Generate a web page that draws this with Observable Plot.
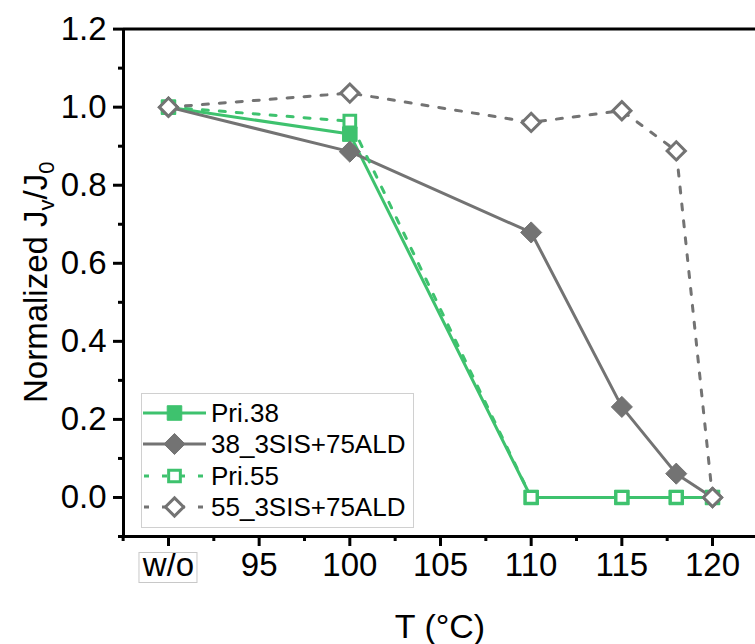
<!DOCTYPE html>
<html>
<head>
<meta charset="utf-8">
<script src="https://cdn.jsdelivr.net/npm/d3@7"></script>
<script src="https://cdn.jsdelivr.net/npm/@observablehq/plot@0.6"></script>
<style>
  html, body { margin: 0; padding: 0; background: #fff; }
  #chart { position: relative; width: 755px; height: 644px; overflow: hidden; }
  svg { font-family: "Liberation Sans", Arial, sans-serif; }
</style>
</head>
<body>
<div id="chart"></div>
<script>
// ---------- data ----------
const temps = [90, 100, 110, 115, 118, 120];          // 90 = "w/o" position
const pri38 = [1.0, 0.931, 0, 0, 0, 0];
const sis38 = [1.0, 0.886, 0.679, 0.232, 0.061, 0];
const pri55 = [1.0, 0.964, 0, 0, 0, 0];
const sis55 = [1.0, 1.036, 0.961, 0.991, 0.888, 0];
const seriesNames = ["Pri.38", "38_3SIS+75ALD", "Pri.55", "55_3SIS+75ALD"];

const xTicks = [90, 95, 100, 105, 110, 115, 120];
const xTickLabels = ["w/o", "95", "100", "105", "110", "115", "120"];
const xMinor = [87.5, 92.5, 97.5, 102.5, 107.5, 112.5, 117.5];
const yTicks = [0, 0.2, 0.4, 0.6, 0.8, 1.0, 1.2];
const yMinor = [-0.1, 0.1, 0.3, 0.5, 0.7, 0.9, 1.1];

const xDomain = [87.52, 122.37];
const yDomain = [-0.1, 1.2];

// ---------- styles ----------
const GREEN = "#3ec26e";
const GRAY = "#737373";
const styles = [
  {color: GREEN, dash: null, symbol: "square", filled: true, r: 8.2},
  {color: GRAY, dash: null, symbol: "diamond2", filled: true, r: 9.5},
  {color: GREEN, dash: "6 11", symbol: "square", filled: false, r: 6.6},
  {color: GRAY, dash: "6 11", symbol: "diamond2", filled: false, r: 8.2}
];
const allValues = [pri38, sis38, pri55, sis55];

const series = seriesNames.map((name, i) => ({
  name,
  ...styles[i],
  rows: temps.map((t, j) => ({t, v: allValues[i][j]}))
}));

const marks = [];
series.forEach(s => {
  marks.push(Plot.line(s.rows, {
    x: "t", y: "v", stroke: s.color, strokeWidth: 3,
    strokeDasharray: s.dash || undefined,
    strokeLinecap: s.dash ? "round" : "butt",
    strokeLinejoin: "round"
  }));
  marks.push(Plot.dot(s.rows, {
    x: "t", y: "v", symbol: () => s.symbol, r: s.r,
    fill: s.filled ? s.color : "white",
    stroke: s.color, strokeWidth: s.filled ? 1 : 3
  }));
});

const tickLabel = d => xTickLabels[xTicks.indexOf(d)];

const plot = Plot.plot({
  width: 755,
  height: 644,
  marginLeft: 123,
  marginRight: 0,
  marginTop: 28.6,
  marginBottom: 108,
  style: {fontSize: "33px", fontFamily: "'Liberation Sans', Arial, sans-serif", color: "#000", background: "#fff"},
  x: {domain: xDomain, axis: null},
  y: {domain: yDomain, axis: null},
  marks: [
    Plot.axisX(xTicks, {tickSize: 10, tickPadding: 6, strokeWidth: 3, tickFormat: tickLabel, label: null, fontSize: 33}),
    Plot.axisX(xMinor, {tickSize: 5, strokeWidth: 3, text: null, label: null}),
    Plot.axisY(yTicks, {tickSize: 10, tickPadding: 7, strokeWidth: 3, tickFormat: d3.format(".1f"), label: null, fontSize: 33}),
    Plot.axisY(yMinor, {tickSize: 5, strokeWidth: 3, text: null, label: null}),
    Plot.ruleY([yDomain[1]], {strokeWidth: 3}),
    Plot.ruleY([yDomain[0]], {strokeWidth: 3}),
    Plot.ruleX([xDomain[0]], {strokeWidth: 3}),
    ...marks
  ]
});

document.getElementById("chart").appendChild(plot);

const svg = d3.select(plot);
const sx = plot.scale("x");
const sy = plot.scale("y");

// box around "w/o"
const wx = sx.apply(xTicks[0]);
svg.append("rect")
  .attr("x", wx - 29).attr("y", 552.5).attr("width", 58).attr("height", 30)
  .attr("fill", "none").attr("stroke", "#c8c8c8").attr("stroke-width", 1);

// axis titles
svg.append("text")
  .attr("x", 440).attr("y", 638)
  .attr("text-anchor", "middle")
  .attr("font-size", 34)
  .attr("fill", "#000")
  .text("T (\u00B0C)");

const yMid = (sy.range[0] + sy.range[1]) / 2;
const yt = svg.append("text")
  .attr("transform", `translate(47,${yMid}) rotate(-90)`)
  .attr("text-anchor", "middle")
  .attr("font-size", 33)
  .attr("fill", "#000");
yt.append("tspan").text("Normalized J");
yt.append("tspan").attr("font-size", 22).attr("dy", 7).text("v");
yt.append("tspan").attr("dy", -7).text("/J");
yt.append("tspan").attr("font-size", 22).attr("dy", 7).text("0");

// legend
const lg = svg.append("g");
lg.append("rect")
  .attr("x", 141.5).attr("y", 393.5).attr("width", 272).attr("height", 134)
  .attr("fill", "white").attr("stroke", "#d0d0d0").attr("stroke-width", 1);
const rowY = [413, 444, 476, 507];
series.forEach((s, i) => {
  const y = rowY[i];
  lg.append("line")
    .attr("x1", 143).attr("x2", 206).attr("y1", y).attr("y2", y)
    .attr("stroke", s.color).attr("stroke-width", 3)
    .attr("stroke-dasharray", s.dash ? "5 13" : null)
    .attr("stroke-dashoffset", s.dash ? -1 : null)
    .attr("stroke-linecap", "butt");
  const sym = s.symbol === "square" ? d3.symbolSquare : d3.symbolDiamond2;
  lg.append("path")
    .attr("d", d3.symbol(sym, Math.PI * s.r * s.r)())
    .attr("transform", `translate(174.5,${y})`)
    .attr("fill", s.filled ? s.color : "white")
    .attr("stroke", s.color)
    .attr("stroke-width", s.filled ? 1 : 3);
  lg.append("text")
    .attr("x", 211).attr("y", y + 9)
    .attr("text-anchor", "start")
    .attr("font-size", 26)
    .attr("fill", "#000")
    .text(s.name);
});
</script>
</body>
</html>
